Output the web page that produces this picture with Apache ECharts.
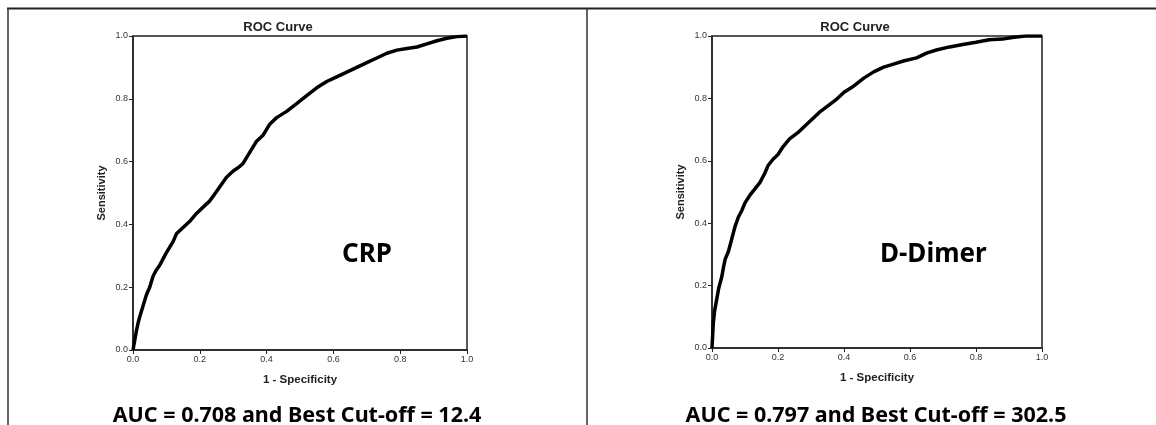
<!DOCTYPE html>
<html>
<head>
<meta charset="utf-8">
<script src="https://cdn.jsdelivr.net/npm/echarts@6/dist/echarts.min.js"></script>
<style>
html,body{margin:0;padding:0;background:#fff;}
#c{width:1156px;height:425px;}
</style>
</head>
<body>
<div id="c"></div>
<script>
// Data: [1 - Specificity, Sensitivity]
const crpPoints = [[0,0],[0.005,0.03],[0.01,0.06],[0.015,0.085],[0.02,0.105],[0.03,0.14],[0.04,0.175],[0.05,0.2],[0.06,0.235],[0.07,0.255],[0.08,0.27],[0.09,0.29],[0.10,0.31],[0.12,0.345],[0.13,0.37],[0.15,0.39],[0.17,0.41],[0.19,0.435],[0.21,0.455],[0.23,0.475],[0.24,0.49],[0.26,0.52],[0.28,0.55],[0.30,0.57],[0.32,0.585],[0.33,0.595],[0.35,0.63],[0.37,0.665],[0.39,0.685],[0.41,0.72],[0.43,0.74],[0.46,0.76],[0.49,0.785],[0.52,0.81],[0.55,0.835],[0.58,0.855],[0.61,0.87],[0.64,0.885],[0.67,0.9],[0.70,0.915],[0.73,0.93],[0.76,0.945],[0.79,0.955],[0.82,0.96],[0.85,0.965],[0.88,0.975],[0.91,0.985],[0.94,0.993],[0.97,0.998],[1,1]];
const ddimerPoints = [[0,0],[0.002,0.04],[0.004,0.08],[0.008,0.12],[0.015,0.16],[0.02,0.19],[0.03,0.23],[0.035,0.26],[0.04,0.285],[0.05,0.31],[0.06,0.35],[0.07,0.39],[0.08,0.42],[0.09,0.44],[0.10,0.465],[0.115,0.49],[0.13,0.51],[0.145,0.53],[0.16,0.56],[0.17,0.585],[0.185,0.605],[0.20,0.62],[0.215,0.645],[0.235,0.67],[0.26,0.69],[0.28,0.71],[0.30,0.73],[0.325,0.755],[0.35,0.775],[0.375,0.795],[0.40,0.82],[0.43,0.84],[0.46,0.865],[0.49,0.885],[0.52,0.9],[0.55,0.91],[0.58,0.92],[0.62,0.93],[0.65,0.945],[0.68,0.955],[0.72,0.965],[0.76,0.973],[0.80,0.98],[0.84,0.988],[0.88,0.99],[0.91,0.995],[0.95,1],[1,1]];
const chartTitle = 'ROC Curve';
const xName = '1 - Specificity';
const yName = 'Sensitivity';
const markers = ['CRP', 'D-Dimer'];
const captions = ['AUC = 0.708 and Best Cut-off = 12.4', 'AUC = 0.797 and Best Cut-off = 302.5'];
const tickMin = 0, tickMax = 1, tickStep = 0.2;

const chart = echarts.init(document.getElementById('c'), null, {renderer:'canvas'});
const axisFont = 'Liberation Sans, Arial, sans-serif';

function xAx(i){
  return {
    type:'value', gridIndex:i, min:tickMin, max:tickMax, interval:tickStep,
    name:xName, nameLocation:'middle', nameGap:24,
    nameTextStyle:{fontFamily:axisFont, fontWeight:'bold', fontSize:11.5, color:'#222'},
    axisLine:{show:true, lineStyle:{color:'#222', width:1.5}},
    axisTick:{show:true, length:4, lineStyle:{color:'#222', width:1}},
    axisLabel:{fontFamily:axisFont, fontSize:9, color:'#333', margin:5, formatter:v=>v.toFixed(1)},
    splitLine:{show:false}
  };
}
function yAx(i){
  return {
    type:'value', gridIndex:i, min:tickMin, max:tickMax, interval:tickStep,
    name:yName, nameLocation:'middle', nameGap:26,
    nameTextStyle:{fontFamily:axisFont, fontWeight:'bold', fontSize:11, color:'#222'},
    axisLine:{show:true, lineStyle:{color:'#222', width:1.5}},
    axisTick:{show:true, length:4, lineStyle:{color:'#222', width:1}},
    axisLabel:{fontFamily:axisFont, fontSize:9, color:'#333', margin:5, formatter:v=>v.toFixed(1)},
    splitLine:{show:false}
  };
}

const gridBorder = {show:true, borderColor:'#222', borderWidth:1.5, backgroundColor:'transparent'};

chart.setOption({
  animation:false,
  backgroundColor:'#fff',
  grid:[
    Object.assign({left:133, top:36, width:334, height:314}, gridBorder),
    Object.assign({left:712, top:36, width:330, height:312}, gridBorder)
  ],
  xAxis:[xAx(0), xAx(1)],
  yAxis:[yAx(0), yAx(1)],
  series:[
    {type:'line', xAxisIndex:0, yAxisIndex:0, data:crpPoints, showSymbol:false, symbol:'none',
     lineStyle:{color:'#000', width:3.5}, z:3},
    {type:'line', xAxisIndex:1, yAxisIndex:1, data:ddimerPoints, showSymbol:false, symbol:'none',
     lineStyle:{color:'#000', width:3.5}, z:3}
  ],
  graphic:[
    {type:'line', shape:{x1:7, y1:8.5, x2:1156, y2:8.5}, style:{stroke:'#222', lineWidth:2}},
    {type:'line', shape:{x1:8, y1:8, x2:8, y2:425}, style:{stroke:'#333', lineWidth:1.5}},
    {type:'line', shape:{x1:587, y1:8, x2:587, y2:425}, style:{stroke:'#333', lineWidth:1.5}},
    {type:'text', style:{x:278, y:27, text:chartTitle, textAlign:'center', textVerticalAlign:'middle',
      font:'bold 13px "Liberation Sans", Arial, sans-serif', fill:'#222'}},
    {type:'text', style:{x:855, y:27, text:chartTitle, textAlign:'center', textVerticalAlign:'middle',
      font:'bold 13px "Liberation Sans", Arial, sans-serif', fill:'#222'}},
    {type:'text', style:{x:367, y:255, text:markers[0], textAlign:'center', textVerticalAlign:'middle',
      font:'bold 26px "Noto Sans", sans-serif', fill:'#000'}},
    {type:'text', style:{x:880, y:255, text:markers[1], textAlign:'left', textVerticalAlign:'middle',
      font:'bold 26px "Noto Sans", sans-serif', fill:'#000'}},
    {type:'text', style:{x:297, y:416, text:captions[0], textAlign:'center', textVerticalAlign:'middle',
      font:'bold 21.5px "Noto Sans", sans-serif', fill:'#000'}},
    {type:'text', style:{x:876, y:416, text:captions[1], textAlign:'center', textVerticalAlign:'middle',
      font:'bold 21.5px "Noto Sans", sans-serif', fill:'#000'}}
  ]
});
</script>
</body>
</html>
